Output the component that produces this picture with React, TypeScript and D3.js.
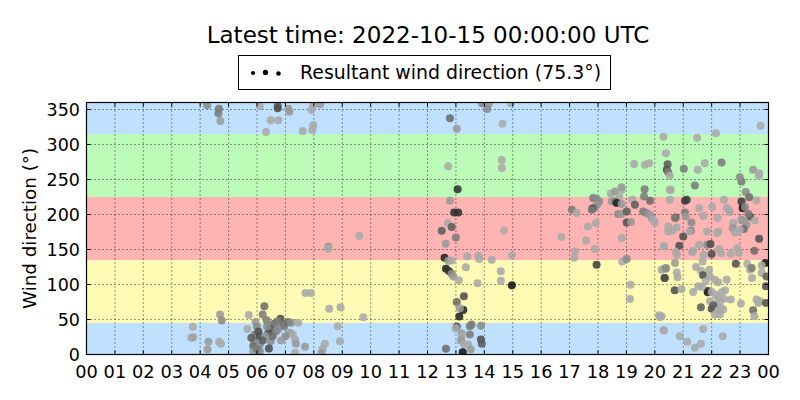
import React from "react";
import * as d3 from "d3";

// [hour of day, wind direction (deg), darkness 0..1]
const morningObs: [number, number, number][] = [
  [3.74, 39.5, 0], [3.68, 23.8, 0], [3.76, 24.5, 0.05], [4.29, 18.1, 0.1], [4.26, 7.1, 0.1],
  [4.70, 57, 0.1], [4.76, 48.5, 0.2], [4.67, 18.1, 0], [4.73, 15.3, 0],
  [4.25, 356, 0.2], [4.66, 351.2, 0.3], [4.64, 344.6, 0.3], [4.71, 333.6, 0.1],
  [6.10, 355, 0], [6.73, 355, 0.5], [6.73, 351.7, 0.6], [6.48, 334.6, 0], [6.75, 334.6, 0],
  [6.32, 318, 0], [7.10, 351.2, 0.1], [7.14, 346.9, 0.1], [7.98, 356, 0], [8.22, 357.4, 0.1],
  [7.92, 349.3, 0], [7.98, 327.5, 0], [7.95, 320.8, 0], [7.61, 319.4, 0],
  [5.71, 56.6, 0], [5.66, 36.6, 0], [6.26, 68.9, 0.4], [6.2, 57, 0.3], [5.95, 46.6, 0.1],
  [6.34, 48.9, 0.3], [6.6, 43.8, 0.4], [6.83, 50.9, 0.6], [6.92, 43.8, 0.4], [6.46, 37.1, 0.5],
  [6.4, 30.9, 0.6], [5.93, 28.5, 0.3], [5.9, 18.1, 0.2], [6.10, 26.1, 0.6], [6.28, 26.1, 0.1],
  [5.87, 11.8, 0.4], [6.1, 14.3, 0.2], [6.48, 19, 0.2], [6.42, 8.6, 0.6], [5.87, 3.8, 0.1],
  [6.1, 4.7, 0.2], [6.67, 33.2, 0.3], [6.75, 36.6, 0.2], [6.96, 40.3, 0.3], [7.1, 46.6, 0.4],
  [7.2, 45.2, 0.2], [7.45, 45.2, 0], [7.16, 30.9, 0.1], [7.26, 28.5, 0], [7.34, 21.4, 0],
  [7.37, 15.3, 0.1], [7.69, 11, 0.1], [7.34, 2.4, 0], [7.71, 88, 0], [7.9, 88, 0],
  [8.54, 65.2, 0], [8.94, 67.4, 0], [8.84, 40.3, 0], [8.92, 19, 0], [8.39, 15.3, 0],
  [8.31, 8.1, 0], [8.27, 2.4, 0.1], [9.74, 53.2, 0], [8.51, 154.4, 0.1], [8.51, 150.7, 0],
  [9.6, 169.7, 0], [6.0, 40, 0.2], [6.55, 26, 0.4], [6.2, 20, 0.5], [6.0, 8, 0.3],
  [6.7, 47, 0.3], [6.35, 40, 0.2], [7.0, 26, 0.2], [6.85, 20, 0.1], [5.8, 24, 0.5], [6.05, 33, 0.6],
];

const middayObs: [number, number, number][] = [
  [13.92, 358.8, 0.2], [14.17, 358.8, 0.1], [14.10, 350.7, 0.2], [14.94, 359, 0],
  [12.79, 337.4, 0.4], [13.03, 322.6, 0.1], [14.64, 329.8, 0], [12.73, 269, 0],
  [14.61, 278, 0], [14.62, 266.6, 0], [13.06, 236.2, 0.8], [12.79, 219.6, 0.1],
  [12.94, 202.9, 0.8], [13.08, 202.9, 0.8], [12.71, 187.8, 0], [12.5, 176.8, 0.5],
  [12.85, 182, 0.5], [13.0, 167.3, 0.3], [12.64, 158.3, 0.1], [14.70, 177.2, 0],
  [16.71, 167.8, 0], [17.08, 206.7, 0.3], [17.25, 202, 0], [17.19, 147.3, 0], [17.16, 138.3, 0],
  [12.6, 138.3, 0.9], [12.73, 134, 0.1], [12.85, 134.4, 0], [13.4, 140.2, 0], [13.79, 141.1, 0],
  [13.82, 136.4, 0], [14.26, 135.4, 0], [14.98, 141.6, 0], [12.65, 122.6, 0.9], [12.76, 118.8, 0.8],
  [12.85, 115.5, 0.2], [12.91, 111.6, 0.1], [13.35, 124.5, 0], [13.1, 105.9, 0], [13.76, 101.7, 0],
  [14.58, 118.8, 0], [14.58, 105.5, 0], [14.97, 98.8, 1], [13.28, 83.1, 0.6], [13.03, 75.1, 0.4],
  [13.26, 63.7, 0.9], [13.14, 66, 0.1], [13.12, 54.2, 0.9], [13.03, 39.9, 0.5], [12.99, 37.1, 0],
  [13.55, 42.8, 0.3], [13.49, 40.3, 0.3], [13.88, 40.9, 0.2], [13.2, 29.9, 0.1], [13.2, 25.2, 0],
  [13.18, 20, 0.1], [13.49, 28.5, 0.3], [13.88, 21.4, 0.6], [13.91, 15.3, 0.5], [13.29, 14.3, 0],
  [13.43, 14.3, 0], [13.52, 7.1, 0.1], [12.65, 8.1, 0.4], [13.24, 3.3, 1],
];

const eveningObs: [number, number, number][] = [
  [17.83, 223.4, 0.3], [17.95, 222.4, 0.2], [18.04, 218.6, 0.2], [17.97, 213.9, 0.1],
  [17.89, 210.6, 0.2], [17.8, 208.2, 0.7], [17.78, 206.7, 0.3], [17.92, 187.8, 0],
  [17.64, 183, 0], [17.58, 163, 0], [17.89, 150.7, 0], [17.95, 128.3, 0.7],
  [18.45, 230, 0], [18.6, 233, 0.1], [18.83, 235, 0], [18.83, 239, 0.1], [18.75, 224.3, 0],
  [18.48, 218.6, 0.1], [18.6, 218.6, 0.3], [18.66, 216.3, 0.9], [18.83, 214.9, 0.1],
  [18.71, 200.6, 0.2], [18.81, 200.6, 0.1], [19.01, 204.3, 0.5], [19.01, 188.6, 0.6],
  [19.16, 189.2, 0.1], [18.84, 166.4, 0], [18.85, 133, 0], [19.01, 136.4, 0.2],
  [19.15, 99.8, 0], [19.12, 79.4, 0], [19.2, 221, 0], [19.3, 213.9, 0.5], [19.64, 236.2, 0.3],
  [19.62, 225.7, 0.3], [19.83, 219.6, 0.4], [19.59, 204.3, 0.3], [19.71, 202, 0.2],
  [19.83, 199.6, 0.1], [19.89, 194.9, 0.1], [19.94, 192.5, 0], [20.0, 188.6, 0],
  [19.27, 272.3, 0], [19.65, 270.9, 0], [19.8, 273.3, 0],
  [20.33, 154.4, 0], [20.24, 121.2, 0], [20.38, 122.6, 0.2], [20.34, 109.3, 0.6],
  [20.15, 56, 0], [20.18, 53.7, 0], [20.32, 34.2, 0], [20.47, 183, 0], [20.47, 175.8, 0],
  [20.53, 235.2, 0],
  [20.30, 311.2, 0], [21.49, 309.8, 0], [22.15, 316.1, 0], [23.72, 326.9, 0],
  [20.39, 287.6, 0], [20.45, 271.9, 0.5], [20.42, 263.8, 0.6], [20.47, 260.5, 0.3],
  [20.53, 255.2, 0], [21.02, 265.2, 0.3], [21.51, 263.8, 0], [21.76, 273.3, 0],
  [22.35, 274.2, 0.3], [21.41, 241.4, 0.3], [20.56, 235.2, 0], [21.12, 221, 0.7],
  [20.53, 221, 0], [21.06, 202.9, 0.3], [21.09, 197.2, 0.1], [21.56, 209.2, 0],
  [22.02, 210.6, 0], [22.43, 221, 0], [21.71, 198.2, 0], [20.73, 195.7, 0.6],
  [21.29, 188.6, 0.2], [22.21, 194.9, 0], [22.53, 209.2, 0], [22.61, 206.7, 0],
  [22.64, 203.5, 0], [23.05, 247.1, 0.3], [22.99, 253.3, 0.2], [23.2, 232, 0.2],
  [23.32, 224.8, 0.4], [23.05, 218.6, 0.7], [23.09, 209.2, 1], [23.17, 210.6, 0.2],
  [23.46, 263.8, 0.1], [23.67, 259, 0], [23.66, 255.2, 0], [23.58, 220, 0],
  [23.35, 197.2, 0.6], [23.29, 201, 0.3], [23.52, 191.5, 0], [23.05, 192.5, 0.1],
  [23.17, 190.1, 0.1], [23.23, 185.3, 0.1], [22.76, 187.8, 0], [22.74, 180.6, 0.1],
  [22.82, 174.4, 0], [23.13, 179.2, 0.4], [23.67, 165.4, 0.6], [20.61, 176.8, 0],
  [21.27, 176.8, 0.3], [22.23, 175.8, 0], [21.0, 168.7, 0.6], [20.32, 155.4, 0],
  [20.86, 155.4, 0.6], [21.35, 148.3, 0], [21.31, 145.9, 0], [21.56, 156.8, 0],
  [21.84, 156.8, 0.2], [21.96, 157.8, 0.6], [22.0, 143.6, 0.6], [21.72, 142.6, 0],
  [22.27, 150.7, 0], [22.33, 145, 0], [22.67, 144, 0], [22.9, 152.1, 0], [22.95, 145, 0],
  [23.5, 148.3, 0.4], [20.77, 142.6, 0], [20.74, 146.4, 0], [23.89, 130.7, 1],
  [20.71, 130.7, 0.1], [21.68, 133, 0], [22.85, 129.7, 0.6], [23.25, 129.7, 0],
  [23.35, 121.2, 0], [23.41, 123.6, 0.3], [23.76, 127.3, 0], [20.3, 122.2, 0],
  [20.39, 123.6, 0.2], [20.35, 109.3, 0.6], [20.77, 117.3, 0], [20.8, 110.2, 0],
  [21.45, 125, 0], [21.62, 119.8, 0], [21.7, 113.1, 0.6], [21.91, 121.2, 0],
  [21.94, 111.6, 0], [21.79, 104.5, 0], [21.86, 91.2, 0.6], [21.86, 88.8, 0.9],
  [22.11, 106.9, 0], [22.23, 103.1, 0], [22.53, 106.9, 0], [23.42, 109.3, 0],
  [23.76, 116.5, 0], [23.93, 111.6, 0.5], [23.91, 97.4, 0.6], [20.7, 91.7, 0.6],
  [20.94, 93.7, 0], [21.35, 89.4, 0], [21.53, 97.4, 0], [21.65, 96.5, 0],
  [22.35, 88.8, 0], [22.47, 91.7, 0], [21.94, 76, 0], [22.09, 71.3, 0], [22.29, 76, 0],
  [22.44, 79.4, 0], [22.67, 78.4, 0], [22.0, 65.2, 0.6], [22.06, 69.9, 0.5],
  [22.33, 66.6, 0], [22.23, 62.7, 0], [22.41, 64.2, 0], [22.29, 57, 0], [22.11, 57, 0],
  [21.62, 67.4, 0.5], [23.03, 72.7, 0], [23.58, 78.4, 0], [23.7, 76, 0], [23.64, 73.7, 0],
  [23.91, 73.7, 0.6], [23.46, 63.2, 0.4], [23.5, 54.6, 0], [20.24, 54.6, 0],
  [20.3, 34.6, 0], [20.88, 26.1, 0], [21.14, 18.1, 0], [21.7, 36.6, 0], [21.62, 15.3, 0],
  [22.39, 26.1, 0], [21.41, 9.5, 0], [20.71, 194.9, 0.3], [20.77, 181.6, 0],
  [21.06, 219.6, 0.7], [21.23, 175.8, 0], [22.19, 173.5, 0], [21.84, 175.8, 0],
  [22.0, 89.4, 0], [22.13, 85.5, 0], [22.23, 80.8, 0], [22.99, 178.2, 0],
];

const yTicks = [0, 50, 100, 150, 200, 250, 300, 350];
const xTickLabels = ["00", "01", "02", "03", "04", "05", "06", "07", "08", "09", "10", "11",
  "12", "13", "14", "15", "16", "17", "18", "19", "20", "21", "22", "23", "00"];

const bands = [
  { from: 0, to: 45, color: "#bfe1ff" },
  { from: 45, to: 135, color: "#fffab4" },
  { from: 135, to: 225, color: "#ffb4b4" },
  { from: 225, to: 315, color: "#bcfcb8" },
  { from: 315, to: 360, color: "#bfe1ff" },
];

const titleText = "Latest time: 2022-10-15 00:00:00 UTC";
const legendText = "Resultant wind direction (75.3°)";
const yLabel = "Wind direction (°)";

const W = 800, H = 400;
const L = 86.5, R = 768.5, T = 102.5, B = 354.5;
const FONT = "DejaVu Sans, sans-serif";

export default function App() {
  const x = d3.scaleLinear().domain([0, 24]).range([L, R]);
  const y = d3.scaleLinear().domain([0, 360]).range([B, T]);
  const all = [...morningObs, ...middayObs, ...eveningObs];
  const shade = (s: number) => {
    const g = Math.round(168 - s * 150);
    return d3.rgb(g, g, g).toString();
  };
  const hours = d3.range(0, 25);
  const tick = 4;
  return (
    <svg width={W} height={H} style={{ position: "absolute", left: 0, top: 0, background: "#fff" }}
      fontFamily={FONT}>
      <rect x={0} y={0} width={W} height={H} fill="#fff" />
      <text x={428} y={43} fontSize={23} textAnchor="middle">{titleText}</text>
      <rect x={238.5} y={55.5} width={372} height={34} fill="#fff" stroke="#000" strokeWidth={1} />
      <circle cx={253} cy={73} r={2.1} fill="#000" />
      <circle cx={265.5} cy={72.5} r={2.7} fill="#000" />
      <circle cx={278.5} cy={73.5} r={2.3} fill="#000" />
      <text x={300} y={79} fontSize={18.9}>{legendText}</text>
      <clipPath id="plotclip">
        <rect x={L} y={T} width={R - L} height={B - T} />
      </clipPath>
      {bands.map((b, i) => (
        <rect key={i} x={L} width={R - L} y={y(b.to)} height={y(b.from) - y(b.to)} fill={b.color} />
      ))}
      <g stroke="#000" strokeWidth={0.8} strokeDasharray="1,3">
        {hours.slice(1, 24).map((h) => (
          <line key={"gx" + h} x1={x(h)} x2={x(h)} y1={T} y2={B} />
        ))}
        {yTicks.slice(1).map((v) => (
          <line key={"gy" + v} x1={L} x2={R} y1={y(v)} y2={y(v)} />
        ))}
      </g>
      <g clipPath="url(#plotclip)">
        {all.map((p, i) => (
          <circle key={i} cx={x(p[0])} cy={y(p[1])} r={4} fill={shade(p[2])} fillOpacity={0.88} />
        ))}
      </g>
      <g stroke="#000" strokeWidth={1}>
        {hours.map((h) => (
          <g key={"tx" + h}>
            <line x1={x(h)} x2={x(h)} y1={B} y2={B - tick} />
            <line x1={x(h)} x2={x(h)} y1={T} y2={T + tick} />
          </g>
        ))}
        {yTicks.map((v) => (
          <g key={"ty" + v}>
            <line x1={L} x2={L + tick} y1={y(v)} y2={y(v)} />
            <line x1={R} x2={R - tick} y1={y(v)} y2={y(v)} />
          </g>
        ))}
      </g>
      <rect x={L} y={T} width={R - L} height={B - T} fill="none" stroke="#000" strokeWidth={1.2} />
      {hours.map((h) => (
        <text key={"lx" + h} x={x(h)} y={377.5} fontSize={17.8} textAnchor="middle">{xTickLabels[h]}</text>
      ))}
      {yTicks.map((v) => (
        <text key={"ly" + v} x={80} y={y(v) + 6.3} fontSize={17.5} textAnchor="end">{v}</text>
      ))}
      <text transform={`translate(35.5,228.5) rotate(-90)`} fontSize={18.3} textAnchor="middle">{yLabel}</text>
    </svg>
  );
}
